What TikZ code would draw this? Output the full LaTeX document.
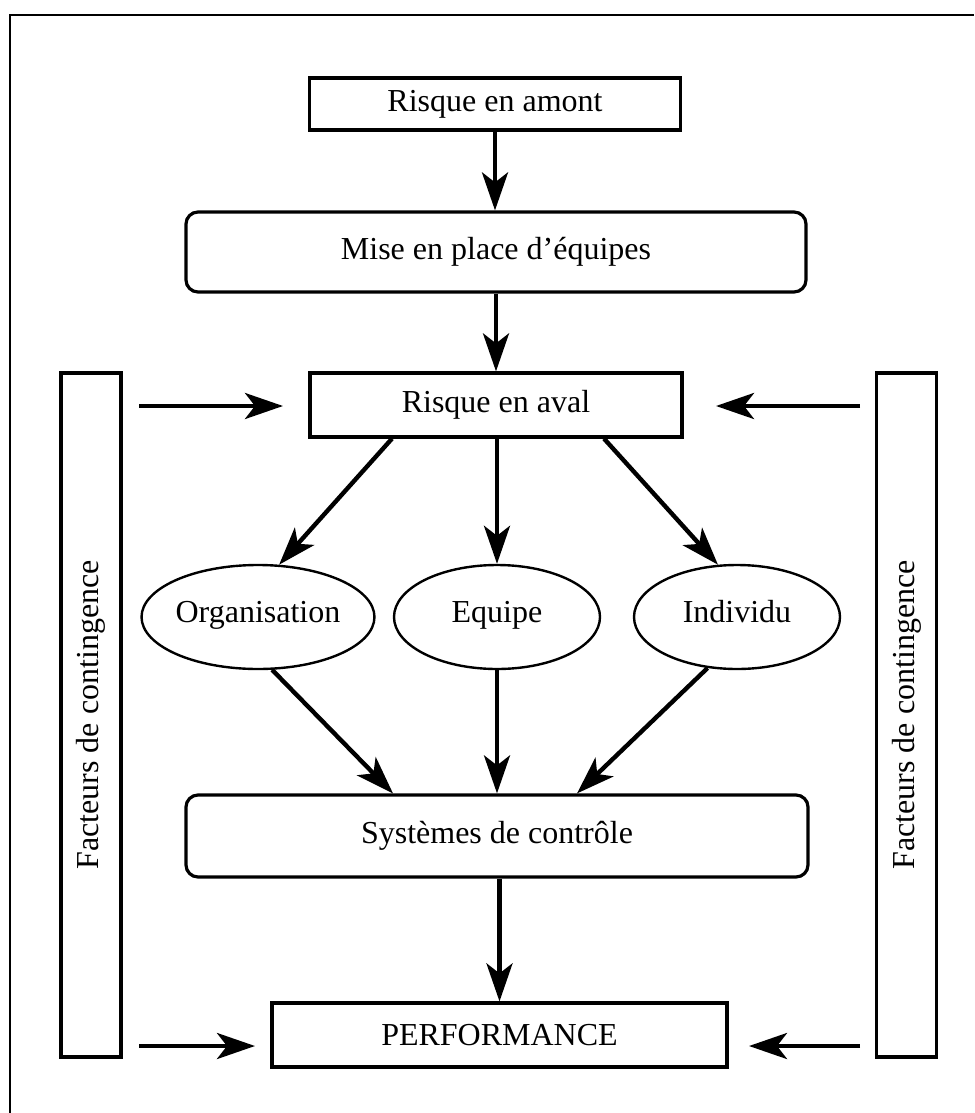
\documentclass[tikz,border=0pt]{standalone}
\usepackage{fontspec}
\setmainfont{Liberation Serif}
\usetikzlibrary{shapes.geometric,arrows.meta}
\tikzset{
  box/.style={draw, line width=1.6pt, inner sep=0pt},
  rbox/.style={box, rounded corners=6pt},
  oval/.style={draw, ellipse, line width=1.2pt, minimum width=103pt, minimum height=52pt, inner sep=0pt, text height=1.6ex, text depth=.4ex},
  side/.style={box, rotate=90, minimum width=342pt, minimum height=30pt},
  arr/.style={line width=2.2pt, -{Stealth[length=19pt,width=13pt,inset=5pt]}}
}
\begin{document}
\begin{tikzpicture}[x=0.5pt,y=-0.5pt,font=\fontsize{16}{19}\selectfont]
\useasboundingbox (0,0) rectangle (974,1113);
\draw[line width=1.1pt] (10,1113) -- (10,15) -- (974,15);
% main column
\node[box, minimum width=185.5pt, minimum height=26pt] (amont) at (495,104) {Risque en amont};
\node[rbox, minimum width=310pt, minimum height=40pt] (mise) at (496,252) {Mise en place d'équipes};
\node[box, minimum width=186pt, minimum height=32pt] (aval) at (496,405) {Risque en aval};
\node[oval] (org) at (258,617) {Organisation};
\node[oval] (equ) at (497,617) {Equipe};
\node[oval] (ind) at (737,617) {Individu};
\node[rbox, minimum width=311pt, minimum height=41pt] (sys) at (497,836) {Systèmes de contrôle};
\node[box, minimum width=227.5pt, minimum height=32pt] (perf) at (499.5,1035) {PERFORMANCE};
% side boxes
\node[side] (lfc) at (91,715) {Facteurs de contingence};
\node[side] (rfc) at (906.5,715) {Facteurs de contingence};
\coordinate (la) at (139,406);
\coordinate (lb) at (283,406);
\coordinate (ra) at (860,406);
\coordinate (rb) at (716,406);
\coordinate (lc) at (139,1046);
\coordinate (ld) at (255,1046);
\coordinate (rc) at (860,1046);
\coordinate (rd) at (749,1046);
% connectors
\draw[arr] (amont.south) -- (amont.south |- mise.north);
\draw[arr] (mise.south) -- (mise.south |- aval.north);
\draw[arr] ([xshift=-52pt]aval.south) -- (org.68);
\draw[arr] (aval.south -| equ.north) -- (equ.north);
\draw[arr] ([xshift=54pt]aval.south) -- (ind.110);
\draw[arr] (org.-75) -- ([xshift=-52pt]sys.north);
\draw[arr] (equ.south) -- (equ.south |- sys.north);
\draw[arr] (ind.-120) -- ([xshift=40pt]sys.north);
\draw[arr] (sys.south -| perf.north) -- (perf.north);
\draw[arr] (la) -- (lb);
\draw[arr] (ra) -- (rb);
\draw[arr] (lc) -- (ld);
\draw[arr] (rc) -- (rd);
\end{tikzpicture}
\end{document}
